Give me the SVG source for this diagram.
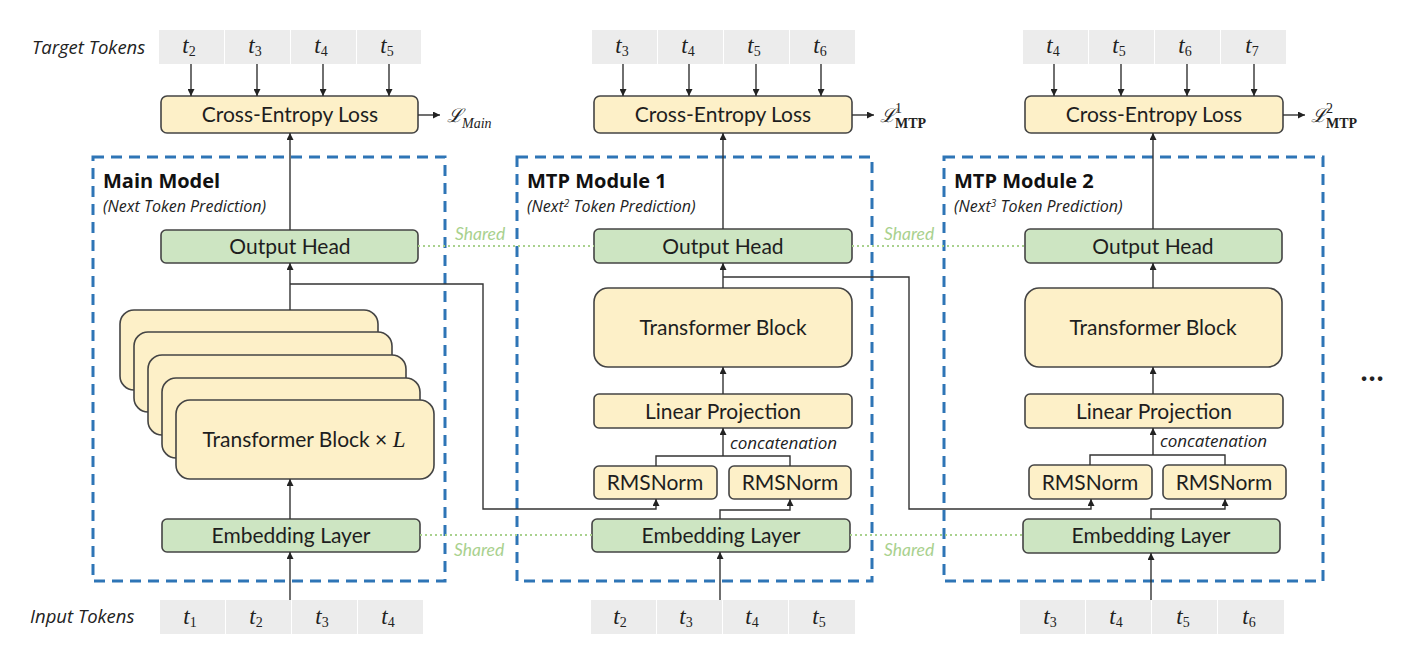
<svg xmlns="http://www.w3.org/2000/svg" width="1423" height="669" viewBox="0 0 1423 669">
<defs>
<style>
.tok{fill:#ececec}
.tt{font-family:"Liberation Serif",serif;font-style:italic;font-size:23px;fill:#222;text-anchor:middle}
.sub{font-size:14px;font-style:normal}
.yb{fill:#fdf0c8;stroke:#444;stroke-width:1.6}
.gb{fill:#cde5c2;stroke:#444;stroke-width:1.6}
.lb{font-family:Lato,"Open Sans",sans-serif;font-size:21px;fill:#1e1e1e;text-anchor:middle}
.lbs{font-family:Lato,"Open Sans",sans-serif;font-size:21px;fill:#1e1e1e;text-anchor:middle}
.frame{fill:none;stroke:#2e75b6;stroke-width:3;stroke-dasharray:11 7}
.title{font-family:"Open Sans",Lato,sans-serif;font-weight:bold;font-size:20px;fill:#111}
.subt{font-family:"Open Sans",Lato,sans-serif;font-style:italic;font-size:16px;fill:#222}
.side{font-family:"Open Sans",Lato,sans-serif;font-style:italic;font-size:18.5px;fill:#222}
.ln{fill:none;stroke:#333;stroke-width:1.4}
.sh{fill:none;stroke:#a9d18e;stroke-width:2;stroke-dasharray:2 3}
.sht{font-family:Lato,"Open Sans",sans-serif;font-style:italic;font-size:17.5px;fill:#a9d18e}
.loss{font-family:"DejaVu Serif","Liberation Serif",serif;font-style:italic;font-size:19px;fill:#222}
.ls{font-family:"Liberation Serif",serif;font-size:14px;fill:#222}
.cc{font-family:"Open Sans",Lato,sans-serif;font-style:italic;font-size:17px;fill:#222}
</style>
<marker id="ah" viewBox="0 0 10 10" refX="10" refY="5" markerWidth="7" markerHeight="7" markerUnits="userSpaceOnUse" orient="auto"><path d="M0,0 L10,5 L0,10 z" fill="#222"/></marker>
</defs>
<rect width="1423" height="669" fill="#fff"/>

<text class="side" x="32" y="54">Target Tokens</text>
<text class="side" x="30" y="623">Input Tokens</text>

<!-- Frames -->
<g id="frame-main"><rect class="frame" x="93" y="157" width="352" height="424"/>
<text class="title" x="103" y="188">Main Model</text>
<text class="subt" x="103" y="212">(Next Token Prediction)</text></g>
<g id="frame-mtp1"><rect class="frame" x="517" y="157" width="355" height="424"/>
<text class="title" x="527" y="188">MTP Module 1</text>
<text class="subt" x="527" y="212">(Next<tspan font-size="10" dy="-5">2</tspan><tspan dy="5"> Token Prediction)</tspan></text></g>
<g id="frame-mtp2"><rect class="frame" x="944" y="157" width="379" height="424"/>
<text class="title" x="954" y="188">MTP Module 2</text>
<text class="subt" x="954" y="212">(Next<tspan font-size="10" dy="-5">3</tspan><tspan dy="5"> Token Prediction)</tspan></text></g>

<!-- Token rows -->
<g id="target-main">
<rect class="tok" x="159" y="30" width="65" height="34"/><rect class="tok" x="225" y="30" width="65" height="34"/><rect class="tok" x="291" y="30" width="65" height="34"/><rect class="tok" x="357" y="30" width="64" height="34"/>
<text class="tt" x="189" y="53">t<tspan class="sub" dy="3">2</tspan></text><text class="tt" x="255" y="53">t<tspan class="sub" dy="3">3</tspan></text><text class="tt" x="321" y="53">t<tspan class="sub" dy="3">4</tspan></text><text class="tt" x="387" y="53">t<tspan class="sub" dy="3">5</tspan></text>
</g>
<g id="target-mtp1">
<rect class="tok" x="592" y="30" width="65" height="34"/><rect class="tok" x="658" y="30" width="65" height="34"/><rect class="tok" x="724" y="30" width="65" height="34"/><rect class="tok" x="790" y="30" width="65" height="34"/>
<text class="tt" x="622" y="53">t<tspan class="sub" dy="3">3</tspan></text><text class="tt" x="688" y="53">t<tspan class="sub" dy="3">4</tspan></text><text class="tt" x="754" y="53">t<tspan class="sub" dy="3">5</tspan></text><text class="tt" x="820" y="53">t<tspan class="sub" dy="3">6</tspan></text>
</g>
<g id="target-mtp2">
<rect class="tok" x="1023" y="30" width="65" height="34"/><rect class="tok" x="1089" y="30" width="65" height="34"/><rect class="tok" x="1155" y="30" width="65" height="34"/><rect class="tok" x="1221" y="30" width="65" height="34"/>
<text class="tt" x="1053" y="53">t<tspan class="sub" dy="3">4</tspan></text><text class="tt" x="1119" y="53">t<tspan class="sub" dy="3">5</tspan></text><text class="tt" x="1185" y="53">t<tspan class="sub" dy="3">6</tspan></text><text class="tt" x="1252" y="53">t<tspan class="sub" dy="3">7</tspan></text>
</g>
<g id="input-main">
<rect class="tok" x="160" y="600" width="65" height="34"/><rect class="tok" x="226" y="600" width="65" height="34"/><rect class="tok" x="292" y="600" width="65" height="34"/><rect class="tok" x="358" y="600" width="65" height="34"/>
<text class="tt" x="190" y="624">t<tspan class="sub" dy="3">1</tspan></text><text class="tt" x="256" y="624">t<tspan class="sub" dy="3">2</tspan></text><text class="tt" x="322" y="624">t<tspan class="sub" dy="3">3</tspan></text><text class="tt" x="388" y="624">t<tspan class="sub" dy="3">4</tspan></text>
</g>
<g id="input-mtp1">
<rect class="tok" x="591" y="600" width="65" height="34"/><rect class="tok" x="657" y="600" width="65" height="34"/><rect class="tok" x="723" y="600" width="65" height="34"/><rect class="tok" x="789" y="600" width="66" height="34"/>
<text class="tt" x="620" y="624">t<tspan class="sub" dy="3">2</tspan></text><text class="tt" x="686" y="624">t<tspan class="sub" dy="3">3</tspan></text><text class="tt" x="752" y="624">t<tspan class="sub" dy="3">4</tspan></text><text class="tt" x="819" y="624">t<tspan class="sub" dy="3">5</tspan></text>
</g>
<g id="input-mtp2">
<rect class="tok" x="1020" y="600" width="65" height="34"/><rect class="tok" x="1086" y="600" width="65" height="34"/><rect class="tok" x="1152" y="600" width="65" height="34"/><rect class="tok" x="1218" y="600" width="66" height="34"/>
<text class="tt" x="1050" y="624">t<tspan class="sub" dy="3">3</tspan></text><text class="tt" x="1116" y="624">t<tspan class="sub" dy="3">4</tspan></text><text class="tt" x="1183" y="624">t<tspan class="sub" dy="3">5</tspan></text><text class="tt" x="1249" y="624">t<tspan class="sub" dy="3">6</tspan></text>
</g>

<!-- Main model nodes -->
<g id="ce-main"><rect class="yb" x="161" y="96" width="257" height="37" rx="6"/><text class="lb" x="290" y="122">Cross-Entropy Loss</text></g>
<g id="loss-main"><text class="loss" x="447" y="122">ℒ</text><text class="ls" x="462" y="128" font-style="italic" font-size="16">Main</text></g>
<g id="oh-main"><rect class="gb" x="161" y="230" width="257" height="33" rx="5"/><text class="lb" x="290" y="254">Output Head</text></g>
<g id="tb-main">
<rect class="yb" x="120" y="310" width="258" height="80" rx="14"/>
<rect class="yb" x="134" y="332" width="258" height="80" rx="14"/>
<rect class="yb" x="148" y="355" width="258" height="80" rx="14"/>
<rect class="yb" x="162" y="378" width="258" height="80" rx="14"/>
<rect class="yb" x="176" y="400" width="258" height="79" rx="14"/>
<text class="lb" x="304" y="447">Transformer Block × <tspan font-family="Liberation Serif" font-style="italic" font-size="23">L</tspan></text>
</g>
<g id="emb-main"><rect class="gb" x="162" y="519" width="258" height="33" rx="5"/><text class="lb" x="291" y="543">Embedding Layer</text></g>

<!-- MTP1 nodes -->
<g id="ce-mtp1"><rect class="yb" x="594" y="96" width="258" height="37" rx="6"/><text class="lb" x="723" y="122">Cross-Entropy Loss</text></g>
<g id="loss-mtp1"><text class="loss" x="880" y="122">ℒ</text><text class="ls" x="895" y="113">1</text><text class="ls" x="895" y="128" font-weight="bold">MTP</text></g>
<g id="oh-mtp1"><rect class="gb" x="594" y="229" width="258" height="34" rx="5"/><text class="lb" x="723" y="254">Output Head</text></g>
<g id="tb-mtp1"><rect class="yb" x="594" y="288" width="258" height="79" rx="14"/><text class="lb" x="723" y="335">Transformer Block</text></g>
<g id="lp-mtp1"><rect class="yb" x="594" y="394" width="258" height="34" rx="5"/><text class="lb" x="723" y="419">Linear Projection</text></g>
<g id="rms1-mtp1"><rect class="yb" x="594" y="466" width="123" height="33" rx="5"/><text class="lbs" x="655" y="490">RMSNorm</text></g>
<g id="rms2-mtp1"><rect class="yb" x="729" y="466" width="122" height="33" rx="5"/><text class="lbs" x="790" y="490">RMSNorm</text></g>
<g id="emb-mtp1"><rect class="gb" x="592" y="519" width="258" height="33" rx="5"/><text class="lb" x="721" y="543">Embedding Layer</text></g>

<!-- MTP2 nodes -->
<g id="ce-mtp2"><rect class="yb" x="1025" y="96" width="258" height="37" rx="6"/><text class="lb" x="1154" y="122">Cross-Entropy Loss</text></g>
<g id="loss-mtp2"><text class="loss" x="1311" y="122">ℒ</text><text class="ls" x="1326" y="113">2</text><text class="ls" x="1326" y="128" font-weight="bold">MTP</text></g>
<g id="oh-mtp2"><rect class="gb" x="1025" y="229" width="257" height="34" rx="5"/><text class="lb" x="1153" y="254">Output Head</text></g>
<g id="tb-mtp2"><rect class="yb" x="1025" y="288" width="257" height="79" rx="14"/><text class="lb" x="1153" y="335">Transformer Block</text></g>
<g id="lp-mtp2"><rect class="yb" x="1025" y="394" width="258" height="34" rx="5"/><text class="lb" x="1154" y="419">Linear Projection</text></g>
<g id="rms1-mtp2"><rect class="yb" x="1029" y="465" width="123" height="34" rx="5"/><text class="lbs" x="1090" y="490">RMSNorm</text></g>
<g id="rms2-mtp2"><rect class="yb" x="1163" y="465" width="123" height="34" rx="5"/><text class="lbs" x="1224" y="490">RMSNorm</text></g>
<g id="emb-mtp2"><rect class="gb" x="1023" y="519" width="257" height="34" rx="5"/><text class="lb" x="1151" y="543">Embedding Layer</text></g>

<text x="1372" y="381" font-family="Lato,sans-serif" font-size="30" font-weight="bold" fill="#222" text-anchor="middle">…</text>

<!-- Connectors -->
<g id="connectors">
<path class="sh" d="M418,246 H594 M852,246 H1025 M420,535 H592 M850,535 H1023"/>
<text class="sht" x="455" y="240">Shared</text>
<text class="sht" x="884" y="240">Shared</text>
<text class="sht" x="454" y="556">Shared</text>
<text class="sht" x="884" y="556">Shared</text>
<text class="cc" x="730" y="449">concatenation</text>
<text class="cc" x="1160" y="447">concatenation</text>

<!-- main -->
<path class="ln" marker-end="url(#ah)" d="M191,64 V96"/>
<path class="ln" marker-end="url(#ah)" d="M257,64 V96"/>
<path class="ln" marker-end="url(#ah)" d="M323,64 V96"/>
<path class="ln" marker-end="url(#ah)" d="M389,64 V96"/>
<path class="ln" marker-end="url(#ah)" d="M418,115 H440"/>
<path class="ln" marker-end="url(#ah)" d="M290,230 V133"/>
<path class="ln" marker-end="url(#ah)" d="M290,310 V263"/>
<path class="ln" marker-end="url(#ah)" d="M290,284 H483 V509 H656 V499"/>
<path class="ln" marker-end="url(#ah)" d="M290,519 V479"/>
<path class="ln" marker-end="url(#ah)" d="M290,600 V552"/>
<!-- mtp1 -->
<path class="ln" marker-end="url(#ah)" d="M623,64 V96"/>
<path class="ln" marker-end="url(#ah)" d="M689,64 V96"/>
<path class="ln" marker-end="url(#ah)" d="M756,64 V96"/>
<path class="ln" marker-end="url(#ah)" d="M821,64 V96"/>
<path class="ln" marker-end="url(#ah)" d="M852,115 H874"/>
<path class="ln" marker-end="url(#ah)" d="M723,229 V133"/>
<path class="ln" marker-end="url(#ah)" d="M723,288 V263"/>
<path class="ln" marker-end="url(#ah)" d="M723,277 H909 V509 H1091 V499"/>
<path class="ln" marker-end="url(#ah)" d="M723,394 V367"/>
<path class="ln" d="M656,466 V456 H790 V466"/>
<path class="ln" marker-end="url(#ah)" d="M723,456 V428"/>
<path class="ln" marker-end="url(#ah)" d="M720,519 V510 H790 V499"/>
<path class="ln" marker-end="url(#ah)" d="M720,600 V552"/>
<!-- mtp2 -->
<path class="ln" marker-end="url(#ah)" d="M1054,64 V96"/>
<path class="ln" marker-end="url(#ah)" d="M1121,64 V96"/>
<path class="ln" marker-end="url(#ah)" d="M1187,64 V96"/>
<path class="ln" marker-end="url(#ah)" d="M1254,64 V96"/>
<path class="ln" marker-end="url(#ah)" d="M1283,115 H1305"/>
<path class="ln" marker-end="url(#ah)" d="M1153,229 V133"/>
<path class="ln" marker-end="url(#ah)" d="M1153,288 V263"/>
<path class="ln" marker-end="url(#ah)" d="M1153,394 V367"/>
<path class="ln" d="M1090,465 V455 H1225 V465"/>
<path class="ln" marker-end="url(#ah)" d="M1153,455 V428"/>
<path class="ln" marker-end="url(#ah)" d="M1151,519 V509 H1225 V499"/>
<path class="ln" marker-end="url(#ah)" d="M1151,600 V553"/>
</g>
</svg>
